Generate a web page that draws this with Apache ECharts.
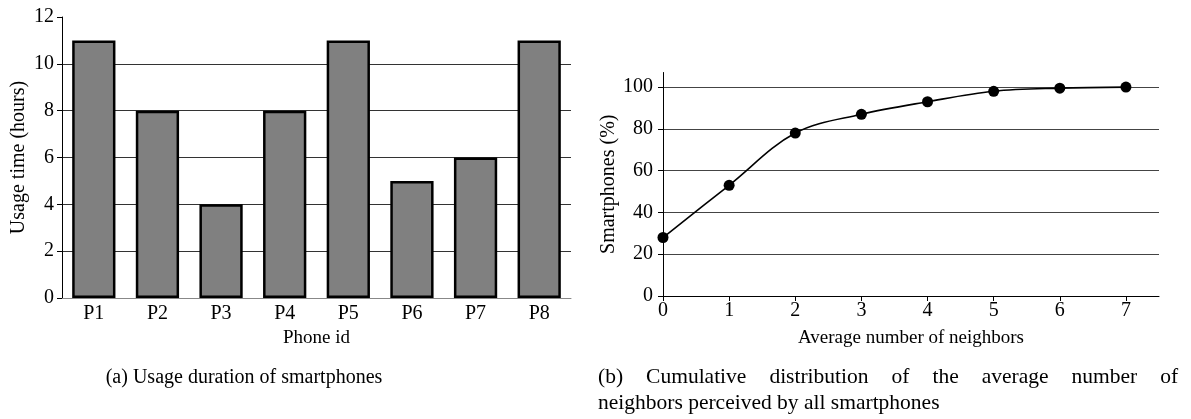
<!DOCTYPE html>
<html>
<head>
<meta charset="utf-8">
<script src="https://cdn.jsdelivr.net/npm/echarts@6/dist/echarts.min.js"></script>
<style>
html,body{margin:0;padding:0;background:#fff;}
#chart{width:1191px;height:419px;}
</style>
</head>
<body>
<div id="chart"></div>
<script>
// Left chart data
const phoneIds = ['P1','P2','P3','P4','P5','P6','P7','P8'];
const usageHours = [11, 8, 4, 8, 11, 5, 6, 11];
const usageTicks = [0, 2, 4, 6, 8, 10, 12];

// Right chart data
const neighborX = [0, 1, 2, 3, 4, 5, 6, 7];
const smartphonePct = [28, 53, 78, 87, 93, 98, 99.5, 100];
const pctTicks = [0, 20, 40, 60, 80, 100];
const neighborTicks = [0, 1, 2, 3, 4, 5, 6, 7];

const captionA = '(a) Usage duration of smartphones';
const captionB1Words = ['(b)', 'Cumulative', 'distribution', 'of', 'the', 'average', 'number', 'of'];
const captionB2 = 'neighbors perceived by all smartphones';

const FONT = 'Liberation Serif';
const chart = echarts.init(document.getElementById('chart'), null, {renderer: 'canvas'});

const txt = {fontFamily: FONT, fontSize: 20, color: '#000'};
const capStyle = {fontFamily: FONT, fontSize: 21.5, fontWeight: 'normal', color: '#000'};

chart.setOption({
  animation: false,
  backgroundColor: '#fff',
  textStyle: {fontFamily: FONT},
  title: [
    {text: captionA, left: 239, top: 363, textAlign: 'center',
     textStyle: Object.assign({}, capStyle, {fontSize: 20})},
    {text: captionB1Words.join('{g| }'), left: 593, top: 361,
     textStyle: Object.assign({}, capStyle, {rich: {g: Object.assign({}, capStyle, {width: 23})}})},
    {text: captionB2, left: 593, top: 387,
     textStyle: capStyle}
  ],
  grid: [
    {left: 62, right: 620, top: 17, bottom: 121, containLabel: false},
    {left: 663, right: 32, top: 72.5, bottom: 123, containLabel: false}
  ],
  xAxis: [
    {
      gridIndex: 0, type: 'category', data: phoneIds,
      name: 'Phone id', nameLocation: 'middle', nameGap: 31,
      nameTextStyle: Object.assign({}, txt, {fontSize: 19}),
      axisLine: {lineStyle: {color: '#888', width: 1}},
      axisTick: {alignWithLabel: true, length: 5, lineStyle: {color: '#888'}},
      axisLabel: Object.assign({}, txt, {margin: 6}),
      splitLine: {show: false}
    },
    {
      gridIndex: 1, type: 'value', min: 0, max: 7.5, interval: 1,
      name: 'Average number of neighbors', nameLocation: 'middle', nameGap: 33,
      nameTextStyle: Object.assign({}, txt, {fontSize: 19}),
      axisLine: {onZero: false, lineStyle: {color: '#000', width: 1}},
      axisTick: {length: 5, customValues: neighborTicks, lineStyle: {color: '#000'}},
      axisLabel: Object.assign({}, txt, {margin: 5, customValues: neighborTicks}),
      splitLine: {show: false}
    }
  ],
  yAxis: [
    {
      gridIndex: 0, type: 'value', min: 0, max: 12, interval: 2,
      name: 'Usage time (hours)', nameLocation: 'middle', nameGap: 33,
      nameTextStyle: Object.assign({}, txt, {fontSize: 20}),
      axisLine: {show: true, lineStyle: {color: '#000', width: 1}},
      axisTick: {show: true, length: 5, customValues: usageTicks, lineStyle: {color: '#000'}},
      axisLabel: Object.assign({}, txt, {margin: 8, customValues: usageTicks}),
      splitLine: {show: true, showMinLine: false, showMaxLine: false, lineStyle: {color: '#333', width: 1}}
    },
    {
      gridIndex: 1, type: 'value', min: 0, max: 107, interval: 20,
      name: 'Smartphones (%)', nameLocation: 'middle', nameGap: 44,
      nameTextStyle: Object.assign({}, txt, {fontSize: 20}),
      axisLine: {show: true, onZero: false, lineStyle: {color: '#000', width: 1}},
      axisTick: {show: true, length: 5, customValues: pctTicks, lineStyle: {color: '#000'}},
      axisLabel: Object.assign({}, txt, {margin: 10, customValues: pctTicks}),
      splitLine: {show: true, showMinLine: false, showMaxLine: true, lineStyle: {color: '#444', width: 1}}
    }
  ],
  series: [
    {
      type: 'bar', xAxisIndex: 0, yAxisIndex: 0, data: usageHours,
      barWidth: '68%',
      itemStyle: {color: '#808080', borderColor: '#000', borderWidth: 2.5},
      z: 3
    },
    {
      type: 'line', xAxisIndex: 1, yAxisIndex: 1,
      data: neighborX.map((x, i) => [x, smartphonePct[i]]),
      smooth: 0.35, symbol: 'circle', symbolSize: 11, showSymbol: true,
      lineStyle: {color: '#000', width: 1.6},
      itemStyle: {color: '#000'},
      clip: false, z: 4
    }
  ]
});
</script>
</body>
</html>
